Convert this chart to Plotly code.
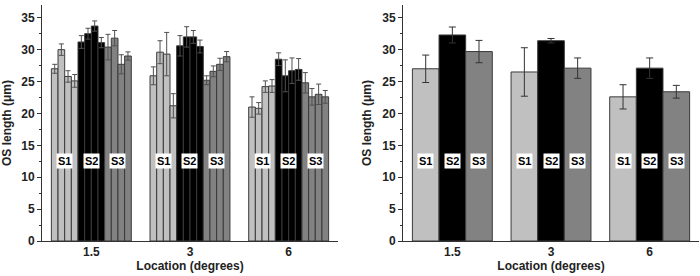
import plotly.graph_objects as go

locations = ["1.5", "3", "6"]
subjects = ["S1", "S2", "S3"]
colors = ["#c0c0c0", "#000000", "#828282"]

# Left panel: 4 measurements per subject per location (mean, sd)
s1_vals = [[27.0, 30.0, 25.8, 25.1], [25.9, 29.6, 29.3, 21.2], [21.0, 20.8, 24.2, 24.3]]
s1_err = [[0.7, 0.9, 0.9, 1.0], [1.4, 1.8, 3.4, 1.9], [1.6, 0.9, 0.9, 1.0]]
s2_vals = [[31.2, 32.5, 33.7, 31.1], [30.6, 32.0, 32.0, 30.5], [28.5, 25.9, 26.7, 26.9]]
s2_err = [[1.0, 0.85, 0.8, 0.8], [1.6, 1.6, 1.0, 1.0], [1.0, 2.5, 2.0, 1.7]]
s3_vals = [[30.4, 31.8, 27.7, 29.0], [25.2, 26.6, 27.7, 28.9], [24.8, 22.6, 23.0, 22.6]]
s3_err = [[2.0, 1.2, 1.5, 0.65], [0.7, 0.85, 0.95, 0.8], [1.6, 1.3, 1.6, 1.0]]

# Right panel: average per subject per location
avg_vals = [[27.0, 26.5, 22.6], [32.3, 31.4, 27.1], [29.7, 27.1, 23.4]]
avg_err = [[2.15, 3.8, 1.9], [1.25, 0.35, 1.6], [1.75, 1.6, 1.0]]

label_y = 12.6
bargap = 0.19

fig = go.Figure()

left_vals = [s1_vals, s2_vals, s3_vals]
left_err = [s1_err, s2_err, s3_err]
for s in range(3):
    for k in range(4):
        fig.add_trace(go.Bar(
            x=locations,
            y=[left_vals[s][i][k] for i in range(3)],
            error_y=dict(type="data", array=[left_err[s][i][k] for i in range(3)],
                         color="#505050", thickness=1, width=2.5),
            marker=dict(color=colors[s], line=dict(color="#3a3a3a", width=1)),
            xaxis="x", yaxis="y", showlegend=False,
        ))

for s in range(3):
    fig.add_trace(go.Bar(
        x=locations, y=avg_vals[s],
        error_y=dict(type="data", array=avg_err[s], color="#333333", thickness=1, width=3.5),
        marker=dict(color=colors[s], line=dict(color="#3a3a3a", width=1)),
        xaxis="x2", yaxis="y2", showlegend=False,
    ))

annotations = []
step = (1 - bargap) / 3
for xr, yr in (("x", "y"), ("x2", "y2")):
    for i in range(3):
        for s in range(3):
            annotations.append(dict(
                x=i + (s - 1) * step, y=label_y, xref=xr, yref=yr,
                text="<b>%s</b>" % subjects[s], showarrow=False,
                bgcolor="white", borderpad=1,
                font=dict(family="Liberation Sans", size=11, color="black"),
            ))

axis_font = dict(family="Liberation Sans", size=12, color="#222222")
title_font = dict(family="Liberation Sans", size=12, color="#222222")

xcommon = dict(type="category", range=[-0.5, 2.5], showline=True, linecolor="#333333",
               linewidth=1, ticks="", showgrid=False, zeroline=False, automargin=False,
               tickfont=axis_font, tickprefix="<b>", ticksuffix="</b>",
               title=dict(text="<b>Location (degrees)</b>", font=title_font, standoff=2))
ycommon = dict(range=[0, 37], dtick=5, showline=True, linecolor="#333333", linewidth=1,
               ticks="outside", ticklen=4, tickcolor="#333333", showgrid=False, zeroline=False,
               automargin=False,
               minor=dict(ticks="outside", ticklen=2, dtick=2.5, tickcolor="#333333"),
               tickfont=axis_font, tickprefix="<b>", ticksuffix="</b>",
               title=dict(text="<b>OS length (\u03bcm)</b>", font=title_font, standoff=8))

fig.update_layout(
    width=700, height=276,
    margin=dict(l=42, r=1, t=5, b=35),
    paper_bgcolor="white", plot_bgcolor="white",
    barmode="group", bargap=bargap, bargroupgap=0,
    xaxis=dict(domain=[0, 0.4505], anchor="y", **xcommon),
    yaxis=dict(domain=[0, 1], anchor="x", **ycommon),
    xaxis2=dict(domain=[0.5495, 1], anchor="y2", **xcommon),
    yaxis2=dict(domain=[0, 1], anchor="x2", **ycommon),
    annotations=annotations,
)

fig.write_html("out.html", config={"displayModeBar": False},
               post_script="document.body.style.margin='0';")
